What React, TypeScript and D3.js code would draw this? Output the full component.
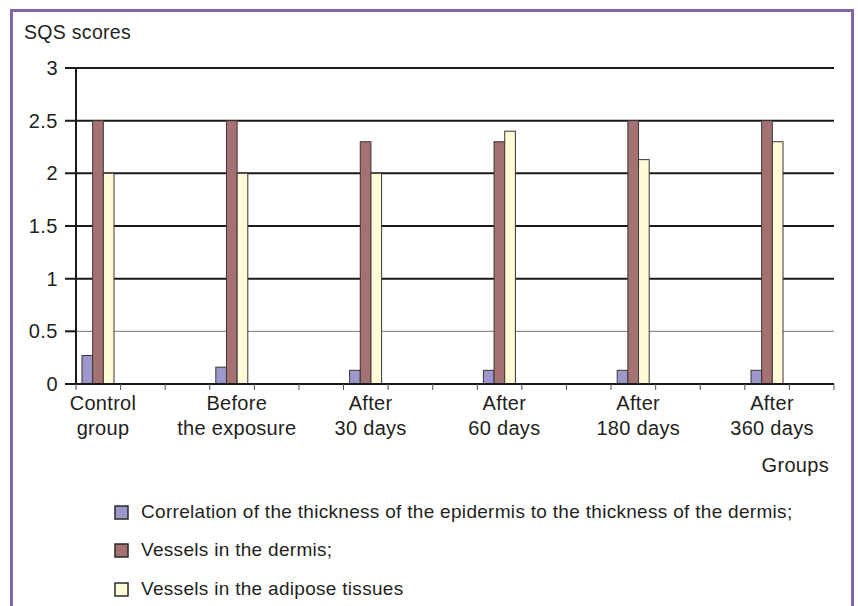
import React from "react";
import * as d3 from "d3";

const categories = ["Control group", "Before the exposure", "After 30 days", "After 60 days", "After 180 days", "After 360 days"];
const categoryLines = [["Control", "group"], ["Before", "the exposure"], ["After", "30 days"], ["After", "60 days"], ["After", "180 days"], ["After", "360 days"]];
const seriesNames = [
  "Correlation of the thickness of the epidermis to the thickness of the dermis;",
  "Vessels in the dermis;",
  "Vessels in the adipose tissues",
];
const epidermisRatio = [0.27, 0.16, 0.13, 0.13, 0.13, 0.13];
const dermisVessels = [2.5, 2.5, 2.3, 2.3, 2.5, 2.5];
const adiposeVessels = [2.0, 2.0, 2.0, 2.4, 2.13, 2.3];
const seriesValues = [epidermisRatio, dermisVessels, adiposeVessels];
const seriesColors = ["#9d98cc", "#a47273", "#fffad8"];
const yTicks = [0, 0.5, 1, 1.5, 2, 2.5, 3];
const yTickLabels = ["0", "0.5", "1", "1.5", "2", "2.5", "3"];
const yTitle = "SQS scores";
const xTitle = "Groups";

const W = 858;
const H = 606;
const FONT = "'Liberation Sans', Arial, Helvetica, sans-serif";

export default function App() {
  const axisLeft = 76;
  const axisRight = 834;
  const y = d3.scaleLinear().domain([0, 3]).range([384, 68]);
  const groupStart = 82;
  const groupStep = 133.8;
  const x = d3
    .scaleBand<string>()
    .domain(categories)
    .range([groupStart, groupStart + groupStep * categories.length])
    .paddingInner(0)
    .paddingOuter(0);
  const inner = d3.scaleBand<number>().domain([0, 1, 2]).range([0, 32]).padding(0);
  const minor = d3.scaleLinear().domain([0, 17]).range([axisLeft, axisRight]);
  const minorTicks = d3.range(18);
  const labelOffset = 21;

  return (
    <svg
      width={W}
      height={H}
      style={{ position: "absolute", left: 0, top: 0, background: "#fff" }}
      fontFamily={FONT}
    >
      {/* frame */}
      <path d={`M11.5,606 L11.5,10.5 L852.5,10.5 L852.5,606`} fill="none" stroke="#8466ab" strokeWidth={3} />

      {/* gridlines */}
      {yTicks.map((t, i) =>
        t === 0 ? null : (
          <line
            key={"g" + i}
            x1={axisLeft - 11}
            x2={axisRight}
            y1={y(t)}
            y2={y(t)}
            stroke={t === 0.5 ? "#777" : "#1a1a1a"}
            strokeWidth={t === 0.5 ? 1 : 2}
          />
        )
      )}
      <line x1={axisLeft - 11} x2={axisLeft} y1={y(0.5)} y2={y(0.5)} stroke="#1a1a1a" strokeWidth={2} />
      {yTicks.map((t, i) => (
        <text key={"yl" + i} x={58} y={y(t) + 7} textAnchor="end" fontSize={20} letterSpacing={0.5} fill="#231f20">
          {yTickLabels[i]}
        </text>
      ))}
      <text x={24} y={39} fontSize={19.5} letterSpacing={0.3} fill="#231f20">
        {yTitle}
      </text>

      {/* bars */}
      {categories.map((c, ci) =>
        seriesValues.map((vals, si) => (
          <rect
            key={c + si}
            x={(x(c) as number) + (inner(si) as number)}
            y={y(vals[ci])}
            width={inner.bandwidth()}
            height={y(0) - y(vals[ci])}
            fill={seriesColors[si]}
            stroke="#3a3535"
            strokeWidth={1}
          />
        ))
      )}

      {/* y axis */}
      <line x1={axisLeft} x2={axisLeft} y1={y(3) - 1} y2={y(0) + 1} stroke="#1a1a1a" strokeWidth={2} />
      {/* x axis */}
      <line x1={axisLeft - 11} x2={axisRight} y1={y(0)} y2={y(0)} stroke="#1a1a1a" strokeWidth={2} />
      {minorTicks.map((i) => (
        <line key={"mt" + i} x1={minor(i)} x2={minor(i)} y1={y(0)} y2={y(0) + 6} stroke="#555" strokeWidth={1} />
      ))}

      {/* category labels */}
      {categories.map((c, ci) => (
        <text key={"cl" + ci} textAnchor="middle" fontSize={20} letterSpacing={0.3} fill="#231f20">
          <tspan x={(x(c) as number) + labelOffset} y={410}>
            {categoryLines[ci][0]}
          </tspan>
          <tspan x={(x(c) as number) + labelOffset} y={435}>
            {categoryLines[ci][1]}
          </tspan>
        </text>
      ))}
      <text x={829} y={472} textAnchor="end" fontSize={20} letterSpacing={0.3} fill="#231f20">
        {xTitle}
      </text>

      {/* legend */}
      {seriesNames.map((n, i) => {
        const ly = [512, 550, 589][i];
        return (
          <g key={"lg" + i}>
            <rect x={115} y={ly - 6} width={13} height={13} fill={seriesColors[i]} stroke="#2a2a2a" strokeWidth={1.5} />
            <text x={141} y={ly + 6} fontSize={19} letterSpacing={0.3} fill="#231f20">
              {n}
            </text>
          </g>
        );
      })}
    </svg>
  );
}
